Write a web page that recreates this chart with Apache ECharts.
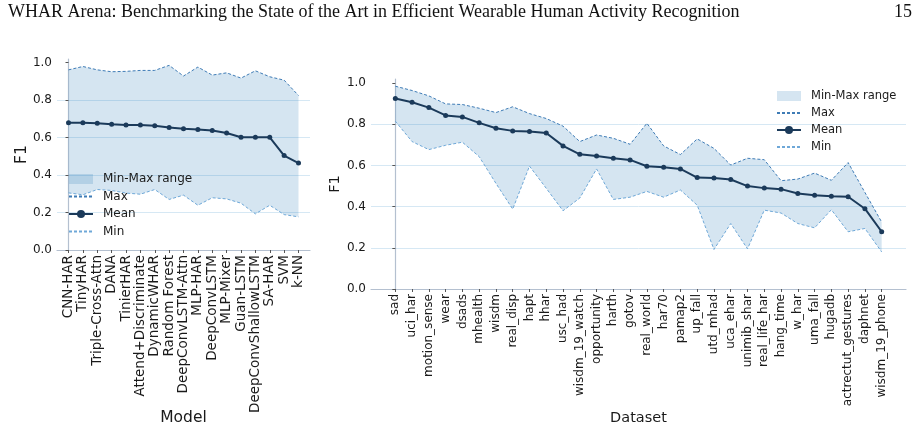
<!DOCTYPE html>
<html>
<head>
<meta charset="utf-8">
<script src="https://cdn.jsdelivr.net/npm/echarts@6.0.0/dist/echarts.min.js"></script>
<style>
  html, body { margin: 0; padding: 0; background: #fff; }
  #chart { width: 916px; height: 433px; }
</style>
</head>
<body>
<div id="chart"></div>
<script>
  const models = ['CNN-HAR', 'TinyHAR', 'Triple-Cross-Attn', 'DANA', 'TinierHAR',
    'Attend+Discriminate', 'DynamicWHAR', 'Random Forest', 'DeepConvLSTM-Attn', 'MLP-HAR',
    'DeepConvLSTM', 'MLP-Mixer', 'Guan-LSTM', 'DeepConvShallowLSTM', 'SA-HAR', 'SVM', 'k-NN'];
  const modelMean = [0.679, 0.679, 0.677, 0.671, 0.668, 0.668, 0.664, 0.654, 0.648, 0.643,
    0.638, 0.625, 0.602, 0.602, 0.602, 0.504, 0.464];
  const modelMax = [0.962, 0.980, 0.962, 0.952, 0.954, 0.959, 0.959, 0.986, 0.929, 0.977,
    0.934, 0.946, 0.918, 0.957, 0.925, 0.907, 0.825];
  const modelMin = [0.305, 0.295, 0.323, 0.318, 0.304, 0.298, 0.323, 0.270, 0.293, 0.239,
    0.279, 0.273, 0.250, 0.193, 0.239, 0.189, 0.177];

  const datasets = ['sad', 'uci_har', 'motion_sense', 'wear', 'dsads', 'mhealth', 'wisdm',
    'real_disp', 'hapt', 'hhar', 'usc_had', 'wisdm_19_watch', 'opportunity', 'harth', 'gotov',
    'real_world', 'har70', 'pamap2', 'up_fall', 'utd_mhad', 'uca_ehar', 'unimib_shar',
    'real_life_har', 'hang_time', 'w_har', 'uma_fall', 'hugadb', 'actrectut_gestures',
    'daphnet', 'wisdm_19_phone'];
  const dataMean = [0.925, 0.907, 0.881, 0.843, 0.836, 0.807, 0.781, 0.768, 0.765, 0.758,
    0.695, 0.654, 0.646, 0.635, 0.627, 0.596, 0.591, 0.583, 0.541, 0.539,
    0.532, 0.500, 0.490, 0.485, 0.464, 0.455, 0.450, 0.448, 0.390, 0.278];
  const dataMax = [0.985, 0.964, 0.938, 0.899, 0.896, 0.878, 0.857, 0.885, 0.852, 0.828,
    0.791, 0.716, 0.748, 0.732, 0.703, 0.805, 0.695, 0.653, 0.729, 0.683,
    0.602, 0.635, 0.628, 0.526, 0.534, 0.563, 0.528, 0.614, 0.469, 0.325];
  const dataMin = [0.815, 0.716, 0.677, 0.698, 0.713, 0.643, 0.513, 0.388, 0.597, 0.489,
    0.380, 0.442, 0.583, 0.435, 0.446, 0.474, 0.446, 0.481, 0.407, 0.192,
    0.318, 0.195, 0.383, 0.369, 0.318, 0.297, 0.385, 0.278, 0.294, 0.180];

  const yTicks = [0, 0.2, 0.4, 0.6, 0.8, 1.0];

  const FILL = 'rgba(31,119,180,0.19)';
  const MAXC = '#3f7cb6';
  const MINC = '#6ea8d8';
  const MEANC = '#1b3a5a';
  const SPINE = '#b4c0d0';
  const GRIDC = '#d6e8f4';
  const TEXT = '#1a1a1a';
  const FONT = 'DejaVu Sans';

  const pairs = (arr) => arr.map((v, i) => [i, v]);

  const chartDom = document.getElementById('chart');
  const myChart = echarts.init(chartDom, null, { renderer: 'canvas' });

  const makeX = (gi, names, pad, fs, title, gap) => ({
    type: 'value',
    gridIndex: gi,
    min: -pad,
    max: names.length - 1 + pad,
    name: title,
    nameLocation: 'middle',
    nameGap: gap,
    nameMoveOverlap: false,
    nameTextStyle: { fontFamily: FONT, fontSize: gi === 0 ? 15.5 : 14.5, color: TEXT },
    axisLine: { lineStyle: { color: SPINE, width: 1.2 } },
    axisTick: { customValues: names.map((n, i) => i), length: 3, lineStyle: { color: '#555' } },
    axisLabel: {
      customValues: names.map((n, i) => i),
      rotate: 90, margin: 5,
      fontFamily: FONT, fontSize: fs, color: TEXT,
      formatter: (v) => names[Math.round(v)]
    },
    splitLine: { show: false }
  });

  const makeY = (gi, fs, gap) => ({
    type: 'value',
    gridIndex: gi,
    min: 0, max: 1.02,
    name: 'F1',
    nameLocation: 'middle',
    nameGap: gap,
    nameMoveOverlap: false,
    nameTextStyle: { fontFamily: FONT, fontSize: gi === 0 ? 15.5 : 14.5, color: TEXT },
    axisLine: { show: true, lineStyle: { color: SPINE, width: 1.2 } },
    axisTick: { show: true, customValues: yTicks, length: 3, lineStyle: { color: '#555' } },
    axisLabel: {
      customValues: yTicks, margin: 5,
      fontFamily: FONT, fontSize: fs, color: TEXT,
      formatter: (v) => v.toFixed(1)
    },
    splitLine: { show: true, showMaxLine: false, showMinLine: false, lineStyle: { color: GRIDC, width: 1 } }
  });

  // band between min and max drawn as one polygon through the axes
  const bandSeries = (xi, mins, maxs, means) => [
    {
      name: 'Min-Max range', type: 'custom', xAxisIndex: xi, yAxisIndex: xi,
      data: mins.map((v, i) => [i, v, maxs[i]]),
      encode: { x: 0, y: [1, 2] },
      itemStyle: { color: FILL },
      z: 1, silent: true,
      renderItem: (params, api) => {
        if (params.dataIndex !== 0) return null;
        const top = maxs.map((v, i) => api.coord([i, v]));
        const bottom = mins.map((v, i) => api.coord([i, v])).reverse();
        return {
          type: 'polygon',
          shape: { points: top.concat(bottom) },
          style: { fill: FILL, stroke: null }
        };
      }
    },
    {
      name: 'Max', type: 'line', xAxisIndex: xi, yAxisIndex: xi,
      data: pairs(maxs), symbol: 'none',
      itemStyle: { color: MAXC }, lineStyle: { color: MAXC, width: 1, type: [3, 2] }, z: 2
    },
    {
      name: 'Mean', type: 'line', xAxisIndex: xi, yAxisIndex: xi,
      data: pairs(means),
      symbol: 'circle', symbolSize: 5,
      itemStyle: { color: MEANC }, lineStyle: { color: MEANC, width: 2 }, z: 3
    },
    {
      name: 'Min', type: 'line', xAxisIndex: xi, yAxisIndex: xi,
      data: pairs(mins), symbol: 'none',
      itemStyle: { color: MINC }, lineStyle: { color: MINC, width: 1, type: [3, 2] }, z: 2
    }
  ];

  const legendData = [
    { name: 'Min-Max range', icon: 'rect', itemStyle: { color: FILL } },
    { name: 'Max', itemStyle: { opacity: 0 } },
    { name: 'Mean' },
    { name: 'Min', itemStyle: { opacity: 0 } }
  ];

  const option = {
    backgroundColor: '#fff',
    animation: false,
    graphic: [
      {
        type: 'text', left: 8, top: 3,
        style: {
          text: 'WHAR Arena: Benchmarking the State of the Art in Efficient Wearable Human Activity Recognition',
          font: '18px "Liberation Serif"', fill: '#111'
        }
      },
      {
        type: 'text', right: 4, top: 3,
        style: { text: '15', font: '18px "Liberation Serif"', fill: '#111' }
      }
    ],
    grid: [
      { left: 57, right: 606, top: 59, bottom: 183 },
      { left: 371, right: 10, top: 79, bottom: 144 }
    ],
    xAxis: [
      makeX(0, models, 0.8, 13.5, 'Model', 160),
      makeX(1, datasets, 1.45, 12, 'Dataset', 122)
    ],
    yAxis: [
      makeY(0, 12, 27),
      makeY(1, 12, 28)
    ],
    legend: [
      {
        data: legendData, orient: 'vertical', left: 68, top: 173, padding: 0,
        itemWidth: 24, itemHeight: 10, itemGap: 5.5,
        textStyle: { fontFamily: FONT, fontSize: 12, color: TEXT, padding: [0, 0, 0, 5] }
      },
      {
        data: legendData, orient: 'vertical', left: 776, top: 90, padding: 0,
        itemWidth: 24, itemHeight: 10, itemGap: 5,
        textStyle: { fontFamily: FONT, fontSize: 11.5, color: TEXT, padding: [0, 0, 0, 5] }
      }
    ],
    series: [
      ...bandSeries(0, modelMin, modelMax, modelMean),
      ...bandSeries(1, dataMin, dataMax, dataMean)
    ]
  };
  myChart.setOption(option);
</script>
</body>
</html>
